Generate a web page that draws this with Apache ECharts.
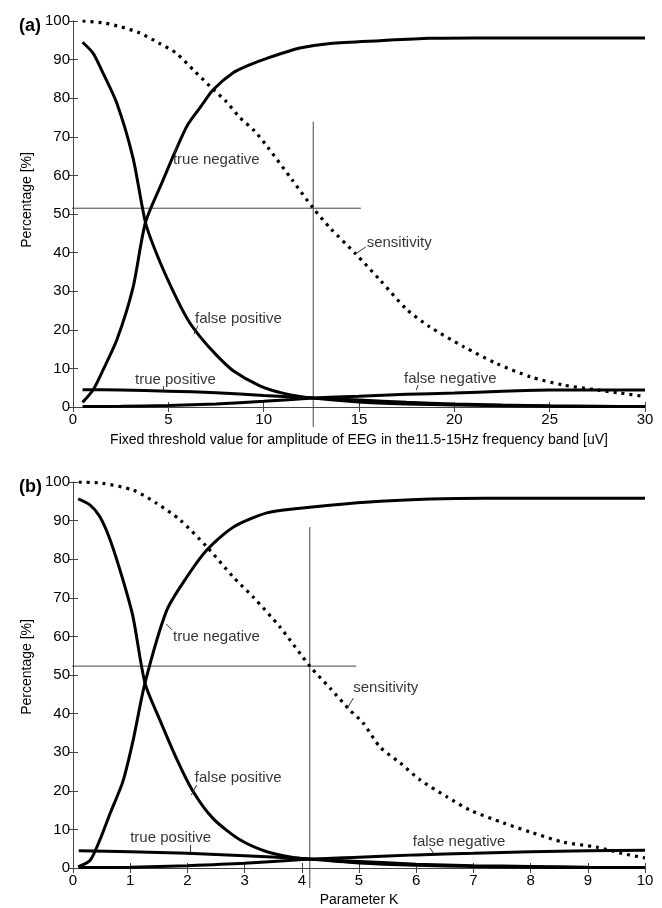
<!DOCTYPE html>
<html>
<head>
<meta charset="utf-8">
<script src="https://cdn.jsdelivr.net/npm/echarts@6/dist/echarts.min.js"></script>
<style>html,body{margin:0;padding:0;background:#fff}#c{width:662px;height:908px}</style>
</head>
<body>
<div id="c"></div>
<script>
// ---------- Panel (a) data ----------
const aXTicks = [0, 30, 5];
const aSensX = [0.5, 1.6, 2.5, 3.5, 4.5, 5.4, 6.3, 7.2, 8.0, 8.75, 9.5, 10.2, 11.5, 12.6, 13.5, 14.8, 16.1, 17.5, 18.7, 20.5, 22.2, 24.0, 25.7, 27.5, 28.7, 30];
const aSensY = [100, 99.5, 98.5, 96.9, 94.3, 91.7, 87.4, 83, 79.3, 75, 71.6, 67.4, 58.8, 51.5, 46.3, 39.8, 32.9, 25.3, 20.8, 15.6, 11.3, 7.8, 5.7, 4.4, 3.6, 2.7];
const aTnX = [0.5, 1.05, 1.5, 2.3, 3.15, 3.8, 4.7, 5.3, 6.0, 6.7, 7.35, 8.4, 9.3, 10.2, 11.9, 13.5, 16.1, 18.7, 21, 25, 30];
const aTnY = [1.2, 4.4, 8.8, 17.4, 31, 47.8, 58.5, 65.5, 73, 77.8, 82.2, 86.6, 88.7, 90.4, 93, 94.2, 94.9, 95.5, 95.6, 95.6, 95.6];
const aFpX = [0.5, 1.05, 1.5, 2.3, 3.15, 3.8, 4.4, 5.25, 6.0, 6.65, 7.55, 8.4, 9.8, 11.0, 12.6, 15, 17.5, 20, 25, 30];
const aFpY = [94.5, 91.7, 87.3, 78.7, 64.5, 47.8, 39.5, 30, 22.8, 18.3, 13.3, 9.4, 5.5, 3.6, 2.3, 1.3, 0.8, 0.5, 0.2, 0.1];
const aTpX = [0.5, 2.5, 5, 7.5, 10, 12.6, 15, 17.5, 20, 22.5, 25, 27.5, 30];
const aTpY = [4.5, 4.4, 4.1, 3.7, 3.0, 2.3, 1.8, 1.2, 0.8, 0.5, 0.3, 0.2, 0.1];
const aFnX = [0.5, 2.5, 5, 7.5, 10, 12.6, 15, 17.5, 20, 22.5, 25, 27.5, 30];
const aFnY = [0.1, 0.2, 0.4, 0.8, 1.5, 2.3, 2.8, 3.3, 3.6, 4.1, 4.4, 4.4, 4.4];
const aHLine = [[-1.7, 51.5], [15.1, 51.5]];
const aVLine = [[12.6, -5.2], [12.6, 73.9]];
const aLabels = [
  ['true negative', 5.24, 64.0, [5.5, 68.4], [5.3, 65.3]],
  ['false positive', 6.4, 22.8, [6.55, 21.0], [6.35, 18.9]],
  ['true positive', 3.25, 7.0, [4.72, 5.4], [4.72, 4.1]],
  ['false negative', 17.36, 7.25, [18.1, 5.7], [18.0, 4.4]],
  ['sensitivity', 15.4, 42.5, [15.36, 41.5], [14.8, 39.6]]
];
const aXName = 'Fixed threshold value for amplitude of EEG in the11.5-15Hz frequency band [uV]';

// ---------- Panel (b) data ----------
const bXTicks = [0, 10, 1];
const bSensX = [0.1, 0.5, 1.05, 1.46, 1.87, 2.34, 2.8, 3.15, 3.62, 4.14, 4.5, 4.84, 5.07, 5.37, 5.72, 6.07, 6.54, 6.94, 7.52, 8.0, 8.57, 9.16, 9.56, 10];
const bSensY = [100, 99.7, 97.9, 94.5, 90.2, 83.2, 75.4, 70.2, 62.4, 52.3, 46.5, 40.9, 37.6, 31.3, 27.2, 22.8, 18.4, 15, 11.7, 9.3, 6.7, 5.4, 3.9, 2.6];
const bTnX = [0.09, 0.3, 0.47, 0.65, 0.87, 1.05, 1.26, 1.64, 1.99, 2.34, 2.8, 3.39, 3.97, 4.49, 5.37, 6.24, 7.2, 10];
const bTnY = [0.3, 2, 7.3, 14.2, 22.3, 33, 48, 66.8, 75.4, 82.4, 88.3, 92, 93.2, 94, 95, 95.6, 95.8, 95.8];
const bFpX = [0.09, 0.3, 0.47, 0.65, 0.87, 1.05, 1.26, 1.52, 1.82, 2.1, 2.45, 2.92, 3.39, 3.85, 4.14, 5, 6, 7, 8, 9, 10];
const bFpY = [95.6, 94, 91, 85, 74.8, 65, 47.8, 38.3, 28, 19.8, 12.8, 7.3, 4.2, 2.7, 2.3, 1.3, 0.7, 0.4, 0.2, 0.1, 0.1];
const bTpX = [0.1, 1, 2, 3, 4.14, 5, 6, 7, 8, 9, 10];
const bTpY = [4.5, 4.2, 3.8, 3.2, 2.3, 1.7, 1.0, 0.6, 0.4, 0.2, 0.1];
const bFnX = [0.1, 1, 2, 3, 4.14, 5, 6, 7, 8, 9, 10];
const bFnY = [0.1, 0.2, 0.6, 1.2, 2.3, 2.8, 3.4, 3.8, 4.2, 4.5, 4.6];
const bHLine = [[-0.4, 52.3], [4.95, 52.3]];
const bVLine = [[4.14, -5.2], [4.14, 88.3]];
const bLabels = [
  ['true negative', 1.75, 59.8, [1.73, 61.7], [1.63, 63.2]],
  ['false positive', 2.13, 23.3, [2.16, 21.5], [2.07, 18.9]],
  ['true positive', 1.0, 7.8, [2.05, 6.0], [2.05, 4.1]],
  ['false negative', 5.94, 6.7, [6.24, 5.2], [6.3, 3.9]],
  ['sensitivity', 4.9, 46.6, [4.9, 44.0], [4.8, 41.5]]
];
const bXName = 'Parameter K';

const yTicks = [0, 100, 10];
const yName = 'Percentage [%]';
const panelTags = ['(a)', '(b)'];

// ---------- chart ----------
const FONT = '"Liberation Sans", Arial, Helvetica, sans-serif';
const AX = '#444';
const chart = echarts.init(document.getElementById('c'), null, {renderer: 'canvas'});

function xAxes(gi, t, name, gap) {
  return [
    {gridIndex: gi, type: 'value', position: 'bottom', min: t[0], max: t[1], interval: t[2],
     splitLine: {show: false}, axisLine: {show: true, lineStyle: {color: AX, width: 1}},
     axisTick: {show: true, inside: true, length: 5, lineStyle: {color: AX}},
     axisLabel: {show: true, color: '#000', fontFamily: FONT, fontSize: 15, margin: 5},
     name: name, nameLocation: 'middle', nameGap: gap,
     nameTextStyle: {color: '#000', fontFamily: FONT, fontSize: 14}},
    {gridIndex: gi, type: 'value', position: 'top', min: t[0], max: t[1], interval: t[2],
     splitLine: {show: false}, axisLine: {show: true, lineStyle: {color: AX, width: 1}},
     axisTick: {show: true, inside: true, length: 5, lineStyle: {color: AX}},
     axisLabel: {show: false}}
  ];
}
function yAxes(gi, shift) {
  return [
    {gridIndex: gi, type: 'value', position: 'left', min: yTicks[0], max: yTicks[1], interval: yTicks[2],
     splitLine: {show: false}, axisLine: {show: true, lineStyle: {color: AX, width: 1}},
     axisTick: {show: true, inside: true, length: 5, lineStyle: {color: AX}},
     axisLabel: {show: true, color: '#000', fontFamily: FONT, fontSize: 15, margin: 3},
     name: yName, nameLocation: 'middle', nameGap: 35,
     nameTextStyle: {color: '#000', fontFamily: FONT, fontSize: 14, padding: [0, 0, 0, shift]}},
    {gridIndex: gi, type: 'value', position: 'right', min: yTicks[0], max: yTicks[1], interval: yTicks[2],
     splitLine: {show: false}, axisLine: {show: true, lineStyle: {color: AX, width: 1}},
     axisTick: {show: true, inside: true, length: 5, lineStyle: {color: AX}},
     axisLabel: {show: false}}
  ];
}

function curve(gi, xs, ys, dotted) {
  return {type: 'line', xAxisIndex: gi * 2, yAxisIndex: gi * 2,
    data: xs.map((x, i) => [x, ys[i]]), symbol: 'none', smooth: 0.25,
    silent: true, z: 3,
    lineStyle: {color: '#000', width: dotted ? 3.2 : 3, type: dotted ? [3, 5] : 'solid', cap: 'butt'}};
}
function guide(gi, pts) {
  return {type: 'line', xAxisIndex: gi * 2, yAxisIndex: gi * 2, data: pts, symbol: 'none',
    clip: false, silent: true, z: 2, lineStyle: {color: '#444', width: 1}};
}
function notes(gi, labels) {
  return {type: 'scatter', xAxisIndex: gi * 2, yAxisIndex: gi * 2, symbolSize: 0, silent: true, z: 5,
    data: labels.map(l => ({name: l[0], value: [l[1], l[2]]})),
    label: {show: true, position: 'right', distance: 0, formatter: '{b}', color: '#000',
      fontFamily: FONT, fontSize: 15},
    markLine: {silent: true, symbol: 'none', label: {show: false},
      lineStyle: {color: '#333', width: 1, type: 'solid'},
      data: labels.map(l => [{coord: l[3]}, {coord: l[4]}])}};
}

const series = [];
[[0, aSensX, aSensY, aTnX, aTnY, aFpX, aFpY, aTpX, aTpY, aFnX, aFnY, aHLine, aVLine, aLabels],
 [1, bSensX, bSensY, bTnX, bTnY, bFpX, bFpY, bTpX, bTpY, bFnX, bFnY, bHLine, bVLine, bLabels]]
.forEach(p => {
  const gi = p[0];
  series.push(guide(gi, p[11]), guide(gi, p[12]));
  series.push(curve(gi, p[1], p[2], true));
  series.push(curve(gi, p[3], p[4]), curve(gi, p[5], p[6]), curve(gi, p[7], p[8]), curve(gi, p[9], p[10]));
  series.push(notes(gi, p[13]));
});

chart.setOption({
  animation: false,
  backgroundColor: '#fff',
  title: [
    {text: panelTags[0], left: 14, top: 12, textStyle: {fontFamily: FONT, fontSize: 18, fontWeight: 'bold', color: '#000'}},
    {text: panelTags[1], left: 14, top: 473, textStyle: {fontFamily: FONT, fontSize: 18, fontWeight: 'bold', color: '#000'}}
  ],
  grid: [
    {left: 73, top: 21, width: 572, height: 386, containLabel: false},
    {left: 73, top: 482, width: 572, height: 386, containLabel: false}
  ],
  xAxis: [].concat(xAxes(0, aXTicks, aXName, 26), xAxes(1, bXTicks, bXName, 25)),
  yAxis: [].concat(yAxes(0, 28), yAxes(1, 16)),
  series: series
});
</script>
</body>
</html>
